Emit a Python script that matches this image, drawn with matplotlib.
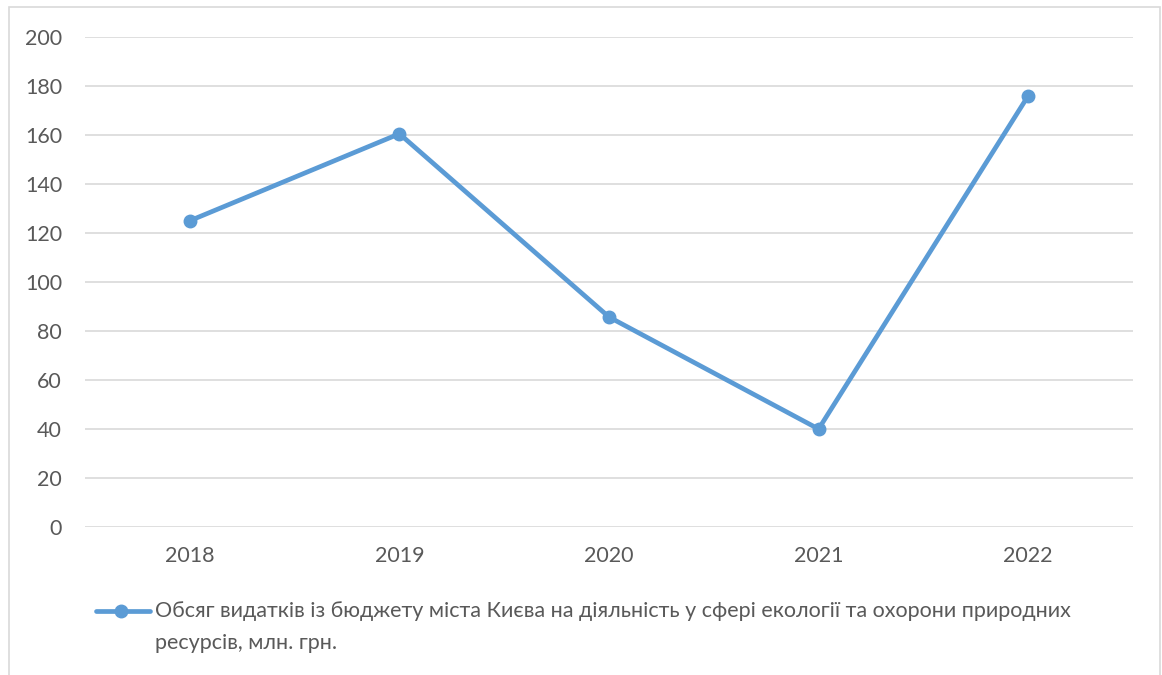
import matplotlib
matplotlib.use("Agg")
import matplotlib.pyplot as plt
from matplotlib.lines import Line2D
from matplotlib.patches import Rectangle

# data
years = ['2018', '2019', '2020', '2021', '2022']
spending = [125, 160.5, 85.7, 40, 176]
yticks = [0, 20, 40, 60, 80, 100, 120, 140, 160, 180, 200]
series_label = 'Обсяг видатків із бюджету міста Києва на діяльність у сфері екології та охорони природних'
series_label2 = 'ресурсів, млн. грн.'

line_color = '#5B9BD5'
text_color = '#595959'
grid_color = '#D9D9D9'
fs = 15.5

plt.rcParams['font.family'] = ['Lato', 'DejaVu Sans']

W, H = 1162, 675
fig = plt.figure(figsize=(W/100, H/100), dpi=100)
ax = fig.add_axes([85/W, 1-527/H, (1133-85)/W, (527-37)/H])

x = list(range(len(years)))
ax.plot(x, spending, color=line_color, linewidth=3.4, marker='o', markersize=9,
        solid_capstyle='round', zorder=3, clip_on=False)

ax.set_xlim(-0.5, len(years)-0.5)
ax.set_ylim(0, 200)
ax.set_yticks(yticks)
ax.set_xticks(x)
ax.set_xticklabels(years)
ax.yaxis.grid(True, color=grid_color, linewidth=1.2)
ax.set_axisbelow(True)
for s in ax.spines.values():
    s.set_visible(False)
ax.tick_params(axis='both', length=0, labelsize=fs, labelcolor=text_color)
ax.tick_params(axis='y', pad=16.5)
ax.tick_params(axis='x', pad=14)

# legend drawn by hand so the marker sits on the first line of text
fig.add_artist(Line2D([96/W, 150/W], [1-611/H, 1-611/H], color=line_color,
                      linewidth=3.4, marker=None, solid_capstyle='round'))
fig.add_artist(Line2D([121/W], [1-611/H], color=line_color, marker='o', markersize=9))
fig.text(155/W, 1-611/H, series_label, fontsize=fs, color=text_color, va='center')
fig.text(155/W, 1-643/H, series_label2, fontsize=fs, color=text_color, va='center')

# chart border
fig.add_artist(Rectangle((9/W, -0.02), (1160-9)/W, 1.02-7/H, transform=fig.transFigure,
                         fill=False, edgecolor=grid_color, linewidth=1.2))

fig.savefig('out.png', dpi=100)
